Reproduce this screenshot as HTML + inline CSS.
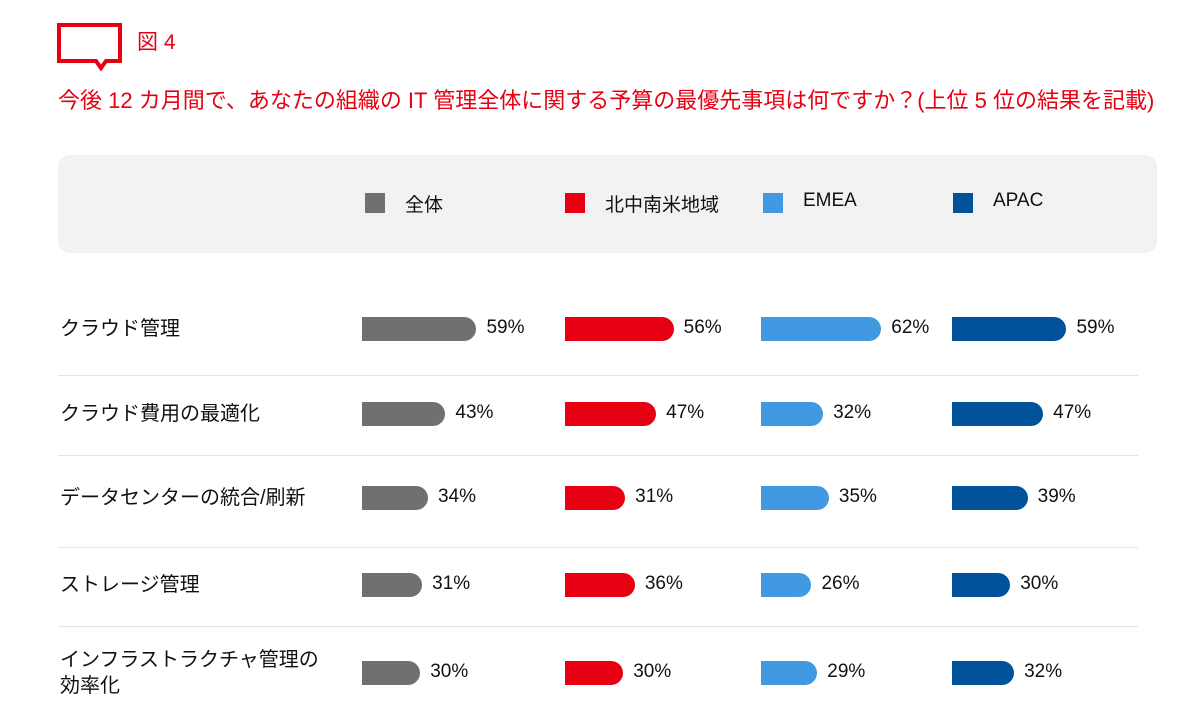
<!DOCTYPE html>
<html><head><meta charset="utf-8"><style>
body{margin:0;width:1191px;height:722px;background:#fff;font-family:"Liberation Sans","Noto Sans CJK JP",sans-serif;position:relative;overflow:hidden}
.abs{position:absolute}
.t{color:#e60012;font-size:22px;line-height:33px;left:58px;top:84px;width:1110px}
.leg{left:58px;top:155px;width:1099px;height:98px;background:#f2f2f2;border-radius:12px}
.sq{width:20px;height:20px;top:193px}
.lt{top:190px;font-size:19px;color:#111}
.lab{left:60px;font-size:20px;color:#111;line-height:26px}
.sep{left:58px;width:1080px;height:1px;background:#e4e4e4}
.bar{height:24px;border-radius:0 12px 12px 0}
.val{font-size:19px;color:#111}
</style></head><body>
<svg class="abs" style="left:56px;top:22px" width="68" height="50"><path d="M3 3H64V39H50L45 46L40 39H3Z" fill="none" stroke="#e60012" stroke-width="4"/></svg>
<div class="abs" style="left:137px;top:26px;color:#e60012;font-size:21px">図 4</div>
<div class="abs t">今後 12 カ月間で、あなたの組織の IT 管理全体に関する予算の最優先事項は何ですか？(上位 5 位の結果を記載)</div>
<div class="abs leg"></div>
<div id="c"></div>
<script>
const categories=["クラウド管理","クラウド費用の最適化","データセンターの統合/刷新","ストレージ管理","インフラストラクチャ管理の<br>効率化"];
const seriesNames=["全体","北中南米地域","EMEA","APAC"];
const overall=[59,43,34,31,30];
const americas=[56,47,31,36,30];
const emea=[62,32,35,26,29];
const apac=[59,47,39,30,32];
const series=[overall,americas,emea,apac];
const colors=["#707070","#e60012","#4199e1","#00539b"];
const colX=[362,565,761,952];
const legX=[365,565,763,953];
const rowY=[329,414,498,585,673];
const sepY=[375,455,547,626];
const pxPer=1.94;
const x=v=>v*pxPer;
const c=document.getElementById('c');
function mk(cls,style,html){const e=document.createElement('div');e.className='abs '+cls;e.style.cssText=style;if(html!=null)e.innerHTML=html;c.appendChild(e);return e;}
seriesNames.forEach((n,i)=>{
 const s=mk('sq',`left:${legX[i]}px;background:${colors[i]}`);
 
 
 const t=mk('lt',`left:${legX[i]+40}px`,n);
 
 
});
sepY.forEach((y,i)=>{const s=mk('sep',`top:${y}px`);
 
 });
categories.forEach((cat,r)=>{
 const multi=cat.includes('<br>');
 const l=mk('lab',`top:${rowY[r]-(multi?26:13)}px`,cat);
 
 
 series.forEach((arr,i)=>{
  const w=x(arr[r]);
  const b=mk('bar',`left:${colX[i]}px;top:${rowY[r]-12}px;width:${w}px;background:${colors[i]}`);
  
  
  const v=mk('val',`left:${colX[i]+w+10}px;top:${rowY[r]-12}px`,arr[r]+'%');
  
  
 });
});
</script>
</body></html>
